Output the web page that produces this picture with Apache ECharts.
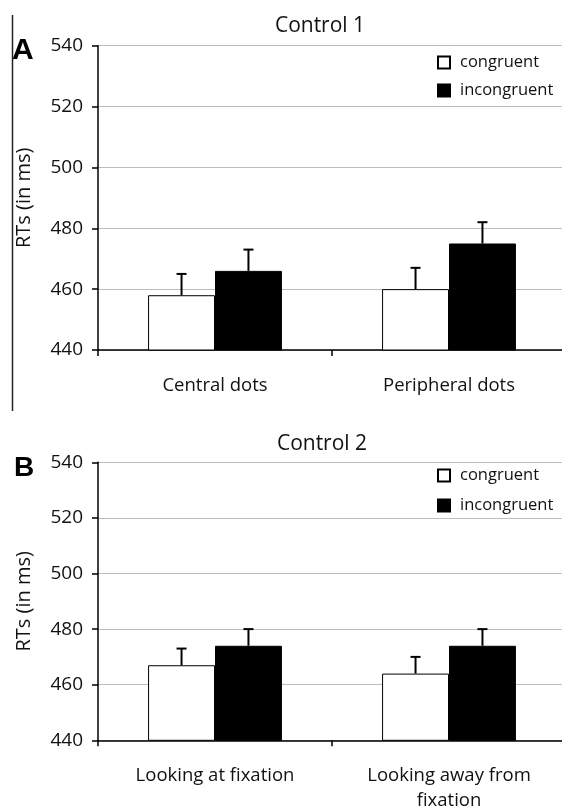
<!DOCTYPE html>
<html>
<head>
<meta charset="utf-8">
<script src="https://cdn.jsdelivr.net/npm/echarts@6/dist/echarts.min.js"></script>
<style>
html,body{margin:0;padding:0;background:#fff;}
#c{width:562px;height:809px;}
</style>
</head>
<body>
<div id="c"></div>
<script>
// ---- data ----
var categoriesA = ['Central dots', 'Peripheral dots'];
var categoriesB = ['Looking at fixation', 'Looking away from\nfixation'];
var seriesNames = ['congruent', 'incongruent'];
var congruentA = [458, 460];
var congruentErrTopA = [465, 467];
var incongruentA = [466, 475];
var incongruentErrTopA = [473, 482];
var congruentB = [467, 464];
var congruentErrTopB = [473, 470];
var incongruentB = [474, 474];
var incongruentErrTopB = [480, 480];
var yTicks = [440, 460, 480, 500, 520, 540];

var FONT = '"Open Sans", sans-serif';
var BAR_FRAC = 0.286;

function errData(vals, tops) {
  return vals.map(function (v, i) { return [i, v, tops[i]]; });
}

function errSeries(name, vals, tops, side, gi) {
  return {
    type: 'custom',
    name: name + ' error',
    xAxisIndex: gi, yAxisIndex: gi,
    z: 5,
    silent: true,
    data: errData(vals, tops),
    renderItem: function (params, api) {
      var band = api.size([1, 0])[0];
      var c = api.coord([api.value(0), api.value(1)]);
      var t = api.coord([api.value(0), api.value(2)]);
      var x = c[0] + side * band * BAR_FRAC / 2;
      var cap = 5;
      return {
        type: 'group',
        children: [
          { type: 'line', shape: { x1: x, y1: c[1], x2: x, y2: t[1] }, style: { stroke: '#000', lineWidth: 2 } },
          { type: 'line', shape: { x1: x - cap, y1: t[1], x2: x + cap, y2: t[1] }, style: { stroke: '#000', lineWidth: 2 } }
        ]
      };
    }
  };
}

function xAxis(cats, gi, margin) {
  return {
    type: 'category', gridIndex: gi, data: cats,
    axisLine: { lineStyle: { color: '#000', width: 1.5 } },
    axisTick: { show: true, length: 6, lineStyle: { color: '#000', width: 1.5 } },
    axisLabel: { color: '#111', fontFamily: FONT, fontSize: 18.5, margin: margin, lineHeight: 25 }
  };
}
function yAxis(gi) {
  return {
    type: 'value', gridIndex: gi, min: yTicks[0], max: yTicks[yTicks.length - 1], interval: 20,
    name: 'RTs (in ms)', nameLocation: 'middle', nameGap: 64,
    nameTextStyle: { color: '#111', fontFamily: FONT, fontSize: 20 },
    axisLine: { show: true, lineStyle: { color: '#000', width: 1.5 } },
    axisTick: { show: true, length: 6, lineStyle: { color: '#000', width: 1.5 } },
    axisLabel: { show: true, color: '#111', fontFamily: FONT, fontSize: 19, fontWeight: 'normal', margin: 15 },
    splitLine: { show: true, lineStyle: { color: '#bdbdbd', width: 1 } }
  };
}
function barSeries(name, vals, gi) {
  var white = name === 'congruent';
  return {
    type: 'bar', name: name, xAxisIndex: gi, yAxisIndex: gi,
    data: vals, barWidth: (BAR_FRAC * 100) + '%', barGap: '0%',
    itemStyle: white ? { color: '#fff', borderColor: '#000', borderWidth: 1 } : { color: '#000', borderColor: '#000', borderWidth: 1 },
    silent: true, z: 3
  };
}
function legend(top, gap) {
  return {
    data: seriesNames, orient: 'vertical', left: 437, top: top,
    icon: 'rect', itemWidth: 12, itemHeight: 12, itemGap: gap,
    selectedMode: false,
    textStyle: { color: '#111', fontFamily: FONT, fontSize: 16.5, padding: [0, 0, 0, 5] },
    padding: 0
  };
}

var chart = echarts.init(document.getElementById('c'), null, { renderer: 'canvas' });
chart.setOption({
  animation: false,
  backgroundColor: '#fff',
  textStyle: { fontFamily: FONT },
  title: [
    { text: 'Control 1', left: 320, top: 16, textAlign: 'center', padding: 0,
      textStyle: { color: '#111', fontFamily: FONT, fontSize: 21, fontWeight: 'normal' } },
    { text: 'Control 2', left: 322, top: 434, textAlign: 'center', padding: 0,
      textStyle: { color: '#111', fontFamily: FONT, fontSize: 21, fontWeight: 'normal' } },
    { text: 'A', left: 12, top: 36, padding: 0,
      textStyle: { color: '#000', fontFamily: '"Liberation Sans", Arial, sans-serif', fontSize: 30, fontWeight: 'bold' } },
    { text: 'B', left: 14, top: 454, padding: 0,
      textStyle: { color: '#000', fontFamily: '"Liberation Sans", Arial, sans-serif', fontSize: 28, fontWeight: 'bold' } }
  ],
  legend: [legend(54, 11), legend(467, 13)],
  grid: [
    { left: 98, top: 45.7, width: 468, height: 304.3, outerBoundsMode: 'none', containLabel: false },
    { left: 98, top: 462.3, width: 468, height: 278, outerBoundsMode: 'none', containLabel: false }
  ],
  xAxis: [xAxis(categoriesA, 0, 23), xAxis(categoriesB, 1, 23)],
  yAxis: [yAxis(0), yAxis(1)],
  series: [
    barSeries('congruent', congruentA, 0),
    barSeries('incongruent', incongruentA, 0),
    errSeries('congruent', congruentA, congruentErrTopA, -1, 0),
    errSeries('incongruent', incongruentA, incongruentErrTopA, 1, 0),
    barSeries('congruent', congruentB, 1),
    barSeries('incongruent', incongruentB, 1),
    errSeries('congruent', congruentB, congruentErrTopB, -1, 1),
    errSeries('incongruent', incongruentB, incongruentErrTopB, 1, 1)
  ],
  graphic: [
    { type: 'line', shape: { x1: 12.5, y1: 15, x2: 12.5, y2: 411 }, style: { stroke: '#222', lineWidth: 1.5 }, silent: true }
  ]
});
</script>
</body>
</html>
